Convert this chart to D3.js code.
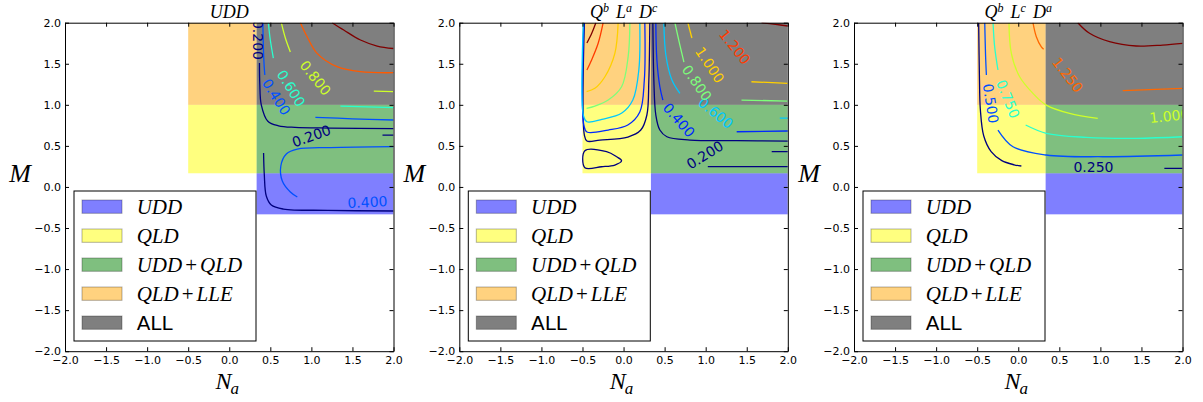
<!DOCTYPE html>
<html>
<head>
<meta charset="utf-8">
<script src="https://cdn.jsdelivr.net/npm/d3@7"></script>
<style>
  body { margin: 0; background: #fff; }
  svg { display: block; }
</style>
</head>
<body>
<svg id="chart" width="1203" height="402"></svg>
<script>
// ---- data (all in data coordinates, N_a on x, M on y) ----
const tickValues = [-2, -1.5, -1, -0.5, 0, 0.5, 1, 1.5, 2]

const regionNames = ["UDD", "QLD", "UDD+QLD", "QLD+LLE", "ALL"]
const regionX = [[1/3, 2], [-0.5, 1/3], [1/3, 2], [-0.5, 1/3], [1/3, 2]]
const regionY = [[-1/3, 1/6], [1/6, 1], [1/6, 1], [1, 2], [1, 2]]

// panel 1: UDD
const uddLevels = [0.2, 0.4, 0.6, 0.8, 1.0, 1.2]
const uddLines = [
  [0.2, [[0.368, 1.509], [0.372, 1.25], [0.39, 1.0], [0.47, 0.80], [0.60, 0.745], [0.80, 0.725], [1.232, 0.717], [2.0, 0.711]]],
  [0.2, [[1.866, 0.632], [2.0, 0.632]]],
  [0.2, [[0.418, 0.413], [0.427, 0.145], [0.451, -0.111], [0.512, -0.221], [0.659, -0.269], [1.2, -0.285], [2.0, -0.293]]],
  [0.4, [[0.409, 2.0], [0.421, 1.546], [0.433, 1.363]]],
  [0.4, [[1.049, 0.848], [1.5, 0.83], [2.0, 0.815]]],
  [0.4, [[2.0, 0.492], [1.232, 0.480], [0.829, 0.461], [0.695, 0.401], [0.628, 0.255], [0.646, 0.072], [0.744, -0.062], [0.829, -0.123]]],
  [0.6, [[0.476, 2.0], [0.5, 1.789], [0.537, 1.570]]],
  [0.6, [[1.354, 0.985], [2.0, 0.967]]],
  [0.8, [[0.634, 2.0], [0.683, 1.813], [0.744, 1.643]]],
  [0.8, [[1.760, 1.166], [2.0, 1.160]]],
  [1.0, [[0.866, 2.0], [0.948, 1.829], [1.070, 1.627], [1.313, 1.464], [1.598, 1.403], [2.0, 1.391]]],
  [1.2, [[1.252, 2.0], [1.394, 1.911], [1.598, 1.789], [1.801, 1.716], [2.0, 1.686]]]
]
const uddLoops = []
const uddLabels = [[0.2, 0.354, 1.79], [0.2, 1.0, 0.62], [0.4, 0.573, 1.095], [0.4, 1.683, -0.184], [0.6, 0.754, 1.201], [0.8, 1.049, 1.327]]

// panel 2: Q^b L^a D^c
const qladLevels = [0.2, 0.4, 0.6, 0.8, 1.0, 1.2, 1.4]
const qladLines = [
  [0.2, [[0.320, 2.0], [0.308, 1.302], [0.284, 0.876], [0.210, 0.693], [0.052, 0.608], [-0.288, 0.571], [-0.446, 0.559], [-0.477, 0.632], [-0.477, 2.0]]],
  [0.2, [[0.357, 2.0], [0.369, 1.302], [0.393, 0.876], [0.442, 0.693], [0.528, 0.611], [0.808, 0.571], [1.378, 0.563], [2.0, 0.559]]],
  [0.2, [[1.026, 0.248], [2.0, 0.248]]],
  [0.2, [[1.804, 0.429], [2.0, 0.429]]],
  [0.4, [[0.259, 2.0], [0.253, 1.302], [0.198, 0.912], [0.052, 0.754], [-0.187, 0.693], [-0.446, 0.669], [-0.483, 0.75], [-0.483, 2.0]]],
  [0.4, [[0.393, 2.0], [0.406, 1.546], [0.442, 1.220], [0.479, 1.058]]],
  [0.4, [[1.378, 0.672], [2.0, 0.681]]],
  [0.6, [[0.198, 2.0], [0.186, 1.424], [0.113, 1.058], [-0.021, 0.900], [-0.264, 0.823], [-0.446, 0.794], [-0.489, 0.87], [-0.489, 2.0]]],
  [0.6, [[0.491, 2.0], [0.515, 1.607], [0.589, 1.302], [0.686, 1.140]]],
  [0.6, [[1.902, 0.839], [2.0, 0.839]]],
  [0.8, [[0.077, 2.0], [0.056, 1.586], [-0.024, 1.220], [-0.187, 1.058], [-0.349, 0.985], [-0.450, 0.957]]],
  [0.8, [[0.625, 2.0], [0.686, 1.728], [0.735, 1.521]]],
  [0.8, [[1.436, 1.058], [2.0, 1.046]]],
  [1.0, [[-0.066, 2.0], [-0.106, 1.627], [-0.227, 1.342], [-0.349, 1.201], [-0.450, 1.160]]],
  [1.0, [[0.783, 2.0], [0.832, 1.814]]],
  [1.0, [[1.557, 1.281], [2.0, 1.262]]],
  [1.2, [[-0.248, 2.0], [-0.309, 1.749], [-0.389, 1.546], [-0.446, 1.424]]],
  [1.4, [[-0.337, 2.0], [-0.386, 1.875], [-0.446, 1.753]]],
  [1.4, [[1.68, 2.0], [1.85, 1.98], [2.0, 1.96]]]
]
const qladLoops = [
  [0.2, [[-0.471, 0.441], [-0.207, 0.429], [-0.085, 0.368], [-0.024, 0.319], [-0.106, 0.267], [-0.268, 0.246], [-0.471, 0.234]]]
]
const qladLabels = [[0.2, 0.990, 0.389], [0.4, 0.674, 0.815], [0.6, 1.123, 0.900], [0.8, 0.893, 1.266], [1.0, 1.050, 1.485], [1.2, 1.354, 1.704]]

// panel 3: Q^b L^c D^a
const qlcdLevels = [0.25, 0.5, 0.75, 1.0, 1.25, 1.5]
const qlcdLines = [
  [0.25, [[-0.482, 2.0], [-0.472, 1.3], [-0.462, 0.95], [-0.42, 0.62], [-0.33, 0.43], [-0.2, 0.32], [-0.05, 0.27], [0.038, 0.255]]],
  [0.25, [[1.779, 0.227], [2.0, 0.227]]],
  [0.5, [[-0.408, 2.0], [-0.398, 1.6], [-0.388, 1.363]]],
  [0.5, [[-0.247, 0.693], [-0.064, 0.490], [0.341, 0.389], [1.029, 0.368], [2.0, 0.389]]],
  [0.75, [[-0.307, 2.0], [-0.287, 1.704], [-0.247, 1.424]]],
  [0.75, [[0.09, 0.754], [0.341, 0.653], [0.827, 0.604], [1.435, 0.592], [2.0, 0.611]]],
  [1.0, [[-0.113, 2.0], [-0.084, 1.627], [0.017, 1.342], [0.179, 1.140], [0.341, 0.997], [0.625, 0.896], [0.968, 0.836]]],
  [1.25, [[0.179, 2.0], [0.220, 1.829], [0.281, 1.705], [0.309, 1.676]]],
  [1.25, [[1.272, 1.172], [2.0, 1.201]]],
  [1.5, [[0.725, 2.0], [0.868, 1.871], [1.111, 1.769], [1.435, 1.716], [1.758, 1.728], [2.0, 1.749]]]
]
const qlcdLoops = []
const qlcdLabels = [[0.25, 0.916, 0.24], [0.5, -0.335, 1.015], [0.75, -0.125, 1.071], [1.0, 1.84, 0.864], [1.25, 0.600, 1.363]]

// ---- styles ----
const regionColors = ["#0000ff", "#ffff00", "#008000", "#ffa500", "#000000"]
const panels = [
  { title: [["UDD", ""]], levels: uddLevels, lines: uddLines, loops: uddLoops, labels: uddLabels,
    colors: ["#00007f", "#0050ff", "#29ffce", "#ceff29", "#ff5a00", "#7f0000"],
    angles: [90, -20, 58, -3, 58, 51] },
  { title: [["Q", "b"], ["L", "a"], ["D", "c"]], levels: qladLevels, lines: qladLines, loops: qladLoops, labels: qladLabels,
    colors: ["#00007f", "#0028ff", "#00c8ff", "#7dff7a", "#ffd000", "#ff3b00", "#7f0000"],
    angles: [-32, 49, 39, 55, 56, 51] },
  { title: [["Q", "b"], ["L", "c"], ["D", "a"]], levels: qlcdLevels, lines: qlcdLines, loops: qlcdLoops, labels: qlcdLabels,
    colors: ["#00007f", "#0050ff", "#29ffce", "#ceff29", "#ff6800", "#7f0000"],
    angles: [0, 81, 68, -6, 52] }
]

const size = 328.5
const plotTop = 22.7
const lefts = [65, 459.3, 854]
const serif = "'Liberation Serif', 'DejaVu Serif', serif"
const sans = "'DejaVu Sans', sans-serif"

const svg = d3.select("#chart")
const x = d3.scaleLinear().domain([-2, 2]).range([0, size])
const y = d3.scaleLinear().domain([-2, 2]).range([size, 0])
const line = d3.line().x(d => x(d[0])).y(d => y(d[1])).curve(d3.curveCatmullRom.alpha(0.5))
const loop = d3.line().x(d => x(d[0])).y(d => y(d[1])).curve(d3.curveCatmullRomClosed.alpha(0.5))

panels.forEach((p, i) => {
  const g = svg.append("g").attr("transform", `translate(${lefts[i]},${plotTop})`)
  g.append("clipPath").attr("id", "clip" + i)
    .append("rect").attr("width", size).attr("height", size)

  const plot = g.append("g").attr("clip-path", `url(#clip${i})`)

  // region patches
  plot.selectAll("rect.region")
    .data(regionNames)
    .join("rect")
      .attr("class", "region")
      .attr("x", (d, j) => x(regionX[j][0]))
      .attr("width", (d, j) => x(regionX[j][1]) - x(regionX[j][0]))
      .attr("y", (d, j) => y(regionY[j][1]))
      .attr("height", (d, j) => y(regionY[j][0]) - y(regionY[j][1]))
      .attr("fill", (d, j) => regionColors[j])
      .attr("fill-opacity", 0.5)

  const colorOf = lv => p.colors[p.levels.indexOf(lv)]

  plot.selectAll("path.contour")
    .data(p.lines)
    .join("path")
      .attr("class", "contour")
      .attr("d", d => line(d[1]))
      .attr("fill", "none")
      .attr("stroke", d => colorOf(d[0]))
      .attr("stroke-width", 1.3)

  plot.selectAll("path.loop")
    .data(p.loops)
    .join("path")
      .attr("class", "loop")
      .attr("d", d => loop(d[1]))
      .attr("fill", "none")
      .attr("stroke", d => colorOf(d[0]))
      .attr("stroke-width", 1.3)

  plot.selectAll("text.clabel")
    .data(p.labels)
    .join("text")
      .attr("class", "clabel")
      .attr("transform", (d, j) => `translate(${x(d[1])},${y(d[2])}) rotate(${p.angles[j]})`)
      .attr("text-anchor", "middle")
      .attr("dominant-baseline", "central")
      .attr("font-family", sans)
      .attr("font-size", 14)
      .attr("fill", d => colorOf(d[0]))
      .text(d => d[0].toFixed(3))

  // axes, ticks pointing inward on all four sides
  const fmt = d3.format(".1f")
  const styleAxis = sel => {
    sel.selectAll(".domain").attr("stroke", "#000").attr("stroke-width", 1)
    sel.selectAll(".tick line").attr("stroke", "#000")
    sel.selectAll("text").attr("font-family", sans).attr("font-size", 11).attr("fill", "#000")
  }
  g.append("g").attr("transform", `translate(0,${size})`)
    .call(d3.axisBottom(x).tickValues(tickValues).tickFormat(fmt).tickSize(-4).tickSizeOuter(0).tickPadding(5))
    .call(styleAxis)
  g.append("g")
    .call(d3.axisTop(x).tickValues(tickValues).tickFormat("").tickSize(-4).tickSizeOuter(0))
    .call(styleAxis)
  g.append("g")
    .call(d3.axisLeft(y).tickValues(tickValues).tickFormat(fmt).tickSize(-4).tickSizeOuter(0).tickPadding(4))
    .call(styleAxis)
  g.append("g").attr("transform", `translate(${size},0)`)
    .call(d3.axisRight(y).tickValues(tickValues).tickFormat("").tickSize(-4).tickSizeOuter(0))
    .call(styleAxis)

  // title
  const title = g.append("text")
    .attr("x", size / 2).attr("y", -5.2)
    .attr("text-anchor", "middle")
    .attr("font-family", serif)
    .attr("font-style", "italic")
    .attr("font-size", 18)
  p.title.forEach(([base, sup], k) => {
    title.append("tspan").attr("dx", k ? 7 : 0).attr("dy", k ? 6 : 0).text(base)
    if (sup) title.append("tspan").attr("font-size", 12).attr("dy", -6).text(sup)
  })

  // axis labels
  g.append("text")
    .attr("x", -45).attr("y", 159)
    .attr("text-anchor", "middle")
    .attr("font-family", serif).attr("font-style", "italic").attr("font-size", 26)
    .text("M")
  const xl = g.append("text")
    .attr("x", size / 2 - 2).attr("y", 366.3)
    .attr("text-anchor", "middle")
    .attr("font-family", serif).attr("font-style", "italic").attr("font-size", 24)
  xl.append("tspan").text("N")
  xl.append("tspan").attr("font-size", 17).attr("dy", 5).attr("dx", -1).text("a")

  // legend
  const legend = g.append("g").attr("transform", "translate(9,168.3)")
  legend.append("rect")
    .attr("width", 182).attr("height", 150)
    .attr("fill", "#fff").attr("stroke", "#000").attr("stroke-width", 1)
  const item = legend.selectAll("g.item")
    .data(regionNames)
    .join("g")
      .attr("class", "item")
      .attr("transform", (d, j) => `translate(0,${15.7 + j * 29})`)
  item.append("rect")
    .attr("x", 8).attr("y", -6.7).attr("width", 40).attr("height", 13.3)
    .attr("fill", (d, j) => regionColors[j]).attr("fill-opacity", 0.5)
    .attr("stroke", "#000").attr("stroke-opacity", 0.3)
  item.each(function (d) {
    const t = d3.select(this).append("text").attr("x", 62.7).attr("y", 7).attr("font-size", 21)
    if (d === "ALL") {
      t.attr("font-family", sans).attr("font-size", 20).attr("y", 7.3).text(d)
      return
    }
    t.attr("font-family", serif)
    d.split("+").forEach((part, k) => {
      if (k) t.append("tspan").attr("dx", 3).attr("font-style", "normal").text("+")
      t.append("tspan").attr("dx", k ? 3 : 0).attr("font-style", "italic").text(part)
    })
  })
})
</script>
</body>
</html>
